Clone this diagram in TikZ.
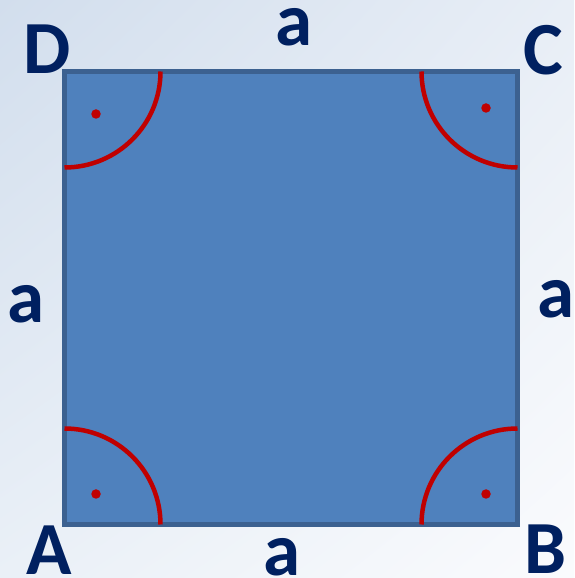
\documentclass[tikz,border=0pt]{standalone}
\usepackage{fontspec}
\setmainfont{Carlito}
\usepackage{xcolor}
\usetikzlibrary{shadings}
\definecolor{bgTL}{HTML}{D2DEED}
\definecolor{bgTR}{HTML}{E8EEF6}
\definecolor{bgBL}{HTML}{EAF0F7}
\definecolor{bgBR}{HTML}{FAFBFD}
\definecolor{sqfill}{HTML}{4F81BD}
\definecolor{sqedge}{HTML}{3C6190}
\definecolor{angred}{HTML}{C00000}
\definecolor{navy}{HTML}{002060}

\begin{document}
\begin{tikzpicture}[x=1pt, y=1pt,
            square/.style={fill=sqfill, draw=sqedge, line width=5pt, line join=miter},
            rightangle/.style={draw=angred, line width=4.5pt},
            angdot/.style={fill=angred, circle, inner sep=0pt, minimum size=9.5pt},
            lbl/.style={text=navy, font=\fontsize{75}{80}\selectfont\bfseries, inner sep=0pt, anchor=base}
        ]

% Background
            \shade[upper left=bgTL, upper right=bgTR, lower left=bgBL, lower right=bgBR] (0,0) rectangle (574,578);
            \useasboundingbox (0,0) rectangle (574,578);

% Corners
            \coordinate (A) at (64.5,53.5);
            \coordinate (B) at (517.5,53.5);
            \coordinate (C) at (517.5,506.5);
            \coordinate (D) at (64.5,506.5);

% Square
            \draw[square] (A) -- (B) -- (C) -- (D) -- cycle;

% Right angles
            \draw[rightangle] ([xshift=96pt]A) arc[start angle=0, end angle=90, radius=96pt];
            \draw[rightangle] ([yshift=96pt]B) arc[start angle=90, end angle=180, radius=96pt];
            \draw[rightangle] ([xshift=-96pt]C) arc[start angle=180, end angle=270, radius=96pt];
            \draw[rightangle] ([yshift=-96pt]D) arc[start angle=270, end angle=360, radius=96pt];

            \node[angdot] (dotA) at (96,84) {};
            \node[angdot] (dotB) at (486,84) {};
            \node[angdot] (dotC) at (486,470) {};
            \node[angdot] (dotD) at (96,464) {};

% Vertex labels
            \node[lbl] (labA) at (49.5,4) {A};
            \node[lbl] (labB) at (545.5,5) {B};
            \node[lbl] (labC) at (543,503) {C};
            \node[lbl] (labD) at (47,504) {D};

% Side labels
            \node[lbl] (sideAB) at (282,2.5) {a};
            \node[lbl] (sideBC) at (556,260) {a};
            \node[lbl] (sideCD) at (294,532) {a};
            \node[lbl] (sideDA) at (26.5,255) {a};

        \end{tikzpicture}
\end{document}
